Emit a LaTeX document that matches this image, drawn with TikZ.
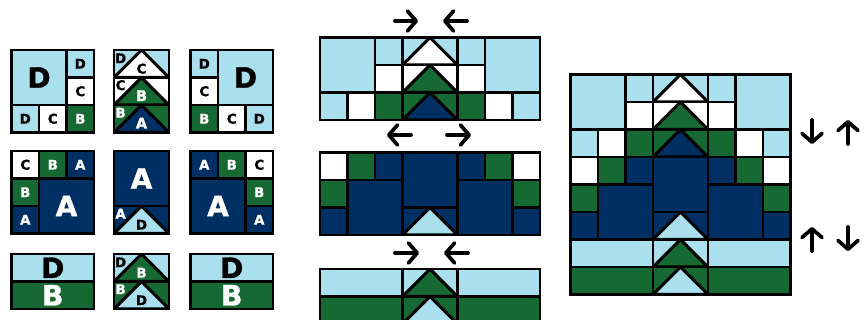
\documentclass[tikz,border=0pt]{standalone}
\usepackage{fontspec}
\setmainfont[BoldFeatures={FakeBold=1.3}]{DejaVu Sans}
\usetikzlibrary{arrows.meta}
\definecolor{lt}{RGB}{170,223,237}
\definecolor{gr}{RGB}{22,105,50}
\definecolor{nv}{RGB}{0,47,99}
\newcount\lblcount
\newif\iflabels
\tikzset{
  cellbox/.style={draw=black,line width=1.8pt,line join=miter},
  framebox/.style={draw=black,line width=2.15pt,line join=miter},
  trianglebox/.style={draw=black,line width=2.3pt,line join=miter},
  lettermark/.style={inner sep=0pt,font=\bfseries},
  turnarrow/.style={line width=2.8pt,line cap=round,-{Straight Barb[length=6.5pt,width=15pt,round]}}
}
% black text on light and white cells, white text on green and navy cells
\newcommand{\lab}[5]{\iflabels\global\advance\lblcount by 1
  \node[lettermark,text=#3,font=\bfseries\fontsize{#4}{#4}\selectfont] (lbl\the\lblcount) at (#1,#2) {#5};\fi}
\newcommand{\cel}[5]{\path[cellbox,fill=#5] (#1,#2) rectangle ++(#3,#4);}
\newcommand{\goose}[4]{\path[cellbox,fill=#3] (#1,#2) rectangle ++(2,1);
  \begin{scope}\clip (#1,#2) rectangle ++(2,1);
  \path[trianglebox,fill=#4] (#1,#2+1) -- (#1+1,#2) -- (#1+2,#2+1) -- cycle;
  \end{scope}}
\newcommand{\fram}[4]{\path[framebox] (#1,#2) rectangle ++(#3,#4);}
% ---- sections; origin at the upper-left corner of the block
\newcommand{\dLeft}[2]{\begin{scope}[shift={(#1,#2)}]
  \cel{0}{0}{2}{2}{lt}\cel{2}{0}{1}{1}{lt}\cel{2}{1}{1}{1}{white}
  \cel{0}{2}{1}{1}{lt}\cel{1}{2}{1}{1}{white}\cel{2}{2}{1}{1}{gr}
  \fram{0}{0}{3}{3}\path[framebox] (0,2) -- (3,2);
  \lab{1}{1}{black}{21}{D}\lab{2.5}{.5}{black}{10}{D}\lab{2.5}{1.5}{black}{10}{C}
  \lab{.5}{2.5}{black}{10}{D}\lab{1.5}{2.5}{black}{10}{C}\lab{2.5}{2.5}{white}{10}{B}
\end{scope}}
\newcommand{\dRight}[2]{\begin{scope}[shift={(#1,#2)}]
  \cel{1}{0}{2}{2}{lt}\cel{0}{0}{1}{1}{lt}\cel{0}{1}{1}{1}{white}
  \cel{0}{2}{1}{1}{gr}\cel{1}{2}{1}{1}{white}\cel{2}{2}{1}{1}{lt}
  \fram{0}{0}{3}{3}\path[framebox] (0,2) -- (3,2);
  \lab{2}{1}{black}{21}{D}\lab{.5}{.5}{black}{10}{D}\lab{.5}{1.5}{black}{10}{C}
  \lab{.5}{2.5}{white}{10}{B}\lab{1.5}{2.5}{black}{10}{C}\lab{2.5}{2.5}{black}{10}{D}
\end{scope}}
\newcommand{\dMid}[2]{\begin{scope}[shift={(#1,#2)}]
  \goose{0}{0}{lt}{white}\goose{0}{1}{white}{gr}\goose{0}{2}{gr}{nv}
  \fram{0}{0}{2}{3}
  \lab{.24}{.3}{black}{10}{D}\lab{1}{.68}{black}{10}{C}
  \lab{.24}{1.28}{black}{10}{C}\lab{1}{1.66}{white}{11}{B}
  \lab{.24}{2.28}{white}{10}{B}\lab{1}{2.66}{white}{11}{A}
\end{scope}}
\newcommand{\aLeft}[2]{\begin{scope}[shift={(#1,#2)}]
  \cel{0}{0}{1}{1}{white}\cel{1}{0}{1}{1}{gr}\cel{2}{0}{1}{1}{nv}
  \cel{0}{1}{1}{1}{gr}\cel{0}{2}{1}{1}{nv}\cel{1}{1}{2}{2}{nv}
  \fram{0}{0}{3}{3}
  \lab{.5}{.5}{black}{10}{C}\lab{1.5}{.5}{white}{10}{B}\lab{2.5}{.5}{white}{10}{A}
  \lab{.5}{1.5}{white}{10}{B}\lab{.5}{2.5}{white}{10}{A}\lab{2}{2}{white}{21}{A}
\end{scope}}
\newcommand{\aRight}[2]{\begin{scope}[shift={(#1,#2)}]
  \cel{0}{0}{1}{1}{nv}\cel{1}{0}{1}{1}{gr}\cel{2}{0}{1}{1}{white}
  \cel{2}{1}{1}{1}{gr}\cel{2}{2}{1}{1}{nv}\cel{0}{1}{2}{2}{nv}
  \fram{0}{0}{3}{3}
  \lab{.5}{.5}{white}{10}{A}\lab{1.5}{.5}{white}{10}{B}\lab{2.5}{.5}{black}{10}{C}
  \lab{2.5}{1.5}{white}{10}{B}\lab{2.5}{2.5}{white}{10}{A}\lab{1}{2}{white}{21}{A}
\end{scope}}
\newcommand{\aMid}[2]{\begin{scope}[shift={(#1,#2)}]
  \cel{0}{0}{2}{2}{nv}\goose{0}{2}{nv}{lt}
  \fram{0}{0}{2}{3}
  \lab{1}{1}{white}{21}{A}\lab{.24}{2.28}{white}{10}{A}\lab{1}{2.68}{black}{10}{D}
\end{scope}}
\newcommand{\bSide}[2]{\begin{scope}[shift={(#1,#2)}]
  \cel{0}{0}{3}{1}{lt}\cel{0}{1}{3}{1}{gr}
  \fram{0}{0}{3}{2}\path[framebox] (0,1) -- (3,1);
  \lab{1.5}{.5}{black}{21}{D}\lab{1.5}{1.5}{white}{21}{B}
\end{scope}}
\newcommand{\bMid}[2]{\begin{scope}[shift={(#1,#2)}]
  \goose{0}{0}{lt}{gr}\goose{0}{1}{gr}{lt}
  \fram{0}{0}{2}{2}
  \lab{.24}{.3}{black}{10}{D}\lab{1}{.68}{white}{10}{B}
  \lab{.24}{1.28}{white}{10}{B}\lab{1}{1.68}{black}{10}{D}
\end{scope}}
\begin{document}
\begin{tikzpicture}[x=20.625pt,y=-20.625pt]
\useasboundingbox (0,0) rectangle ({864/27.5},{320/27.5});
\clip (0,0) rectangle ({864/27.5},{320/27.5});
% small blocks with letters
\labelstrue
\dLeft{11.5/27.5}{50/27.5}
\dMid{114/27.5}{50/27.5}
\dRight{190.5/27.5}{50/27.5}
\aLeft{11.5/27.5}{151/27.5}
\aMid{114/27.5}{151/27.5}
\aRight{190.5/27.5}{151/27.5}
\bSide{11.5/27.5}{254/27.5}
\bMid{114/27.5}{254/27.5}
\bSide{190.5/27.5}{254/27.5}
% joined rows
\labelsfalse
\dLeft{320/27.5}{37.5/27.5}\dMid{402.5/27.5}{37.5/27.5}\dRight{457.5/27.5}{37.5/27.5}
\aLeft{320/27.5}{152.5/27.5}\aMid{402.5/27.5}{152.5/27.5}\aRight{457.5/27.5}{152.5/27.5}
\bSide{320/27.5}{269/27.5}\bMid{402.5/27.5}{269/27.5}\bSide{457.5/27.5}{269/27.5}
% finished quilt
\dLeft{570.5/27.5}{74.5/27.5}\dMid{653/27.5}{74.5/27.5}\dRight{708/27.5}{74.5/27.5}
\aLeft{570.5/27.5}{157/27.5}\aMid{653/27.5}{157/27.5}\aRight{708/27.5}{157/27.5}
\bSide{570.5/27.5}{239.5/27.5}\bMid{653/27.5}{239.5/27.5}\bSide{708/27.5}{239.5/27.5}
% pressing arrows
\begin{scope}[x=.75pt,y=-.75pt]
\coordinate (r1a) at (395,21);\coordinate (r1b) at (418,21);
\coordinate (r1c) at (467,21);\coordinate (r1d) at (443,21);
\coordinate (r2a) at (411,135);\coordinate (r2b) at (387,135);
\coordinate (r2c) at (447,135);\coordinate (r2d) at (471,135);
\coordinate (r3a) at (395,253);\coordinate (r3b) at (419,253);
\coordinate (r3c) at (468,253);\coordinate (r3d) at (444,253);
\coordinate (q1a) at (812,120);\coordinate (q1b) at (812,144);
\coordinate (q1c) at (848,144);\coordinate (q1d) at (848,120);
\coordinate (q2a) at (812,251);\coordinate (q2b) at (812,227);
\coordinate (q2c) at (848,227);\coordinate (q2d) at (848,251);
\end{scope}
\foreach \s/\e in {r1a/r1b,r1c/r1d,r2a/r2b,r2c/r2d,r3a/r3b,r3c/r3d,q1a/q1b,q1c/q1d,q2a/q2b,q2c/q2d}
  \draw[turnarrow] (\s) -- (\e);
\end{tikzpicture}
\end{document}
